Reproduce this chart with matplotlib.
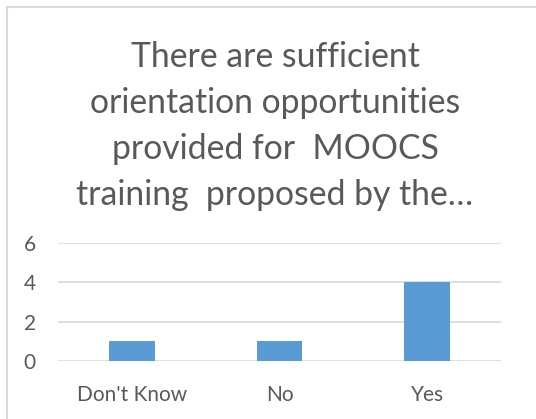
import matplotlib
matplotlib.use("Agg")
import matplotlib.pyplot as plt
from matplotlib.lines import Line2D

categories = ["Don't Know", "No", "Yes"]
values = [1, 1, 4]
yticks = [0, 2, 4, 6]
title_lines = ["There are sufficient", "orientation opportunities",
               "provided for  MOOCS", "training  proposed by the\u2026"]

W, H = 536, 419
fig = plt.figure(figsize=(W / 100, H / 100), dpi=100)
plt.rcParams['font.family'] = ['Lato', 'DejaVu Sans']

# chart border (left and top visible)
fig.add_artist(Line2D([7 / W, 7 / W], [0, 1 - 7 / H], color='#d9d9d9', lw=1.5))
fig.add_artist(Line2D([7 / W, 1], [1 - 7 / H, 1 - 7 / H], color='#d9d9d9', lw=1.5))

x0, x1 = 58, 501
ytop, ybot = 243, 361
ax = fig.add_axes([x0 / W, 1 - ybot / H, (x1 - x0) / W, (ybot - ytop) / H])
ax.bar(range(len(categories)), values, width=0.31, color='#5b9bd5', zorder=3)
ax.set_xlim(-0.5, len(categories) - 0.5)
ax.set_ylim(0, 6)
ax.set_yticks(yticks)
ax.set_xticks(range(len(categories)))
ax.set_xticklabels(categories)
ax.yaxis.grid(True, color='#d9d9d9', lw=1.2, zorder=0)
for s in ax.spines.values():
    s.set_visible(False)
ax.tick_params(length=0, colors='#595959', labelsize=15)
ax.tick_params(axis='x', pad=17)
ax.tick_params(axis='y', pad=16)

for i, line in enumerate(title_lines):
    fig.text(275 / W, 1 - (57 + i * 46) / H, line, ha='center', va='center',
             fontsize=24.3, color='#595959')

fig.savefig("out.png", dpi=100)
